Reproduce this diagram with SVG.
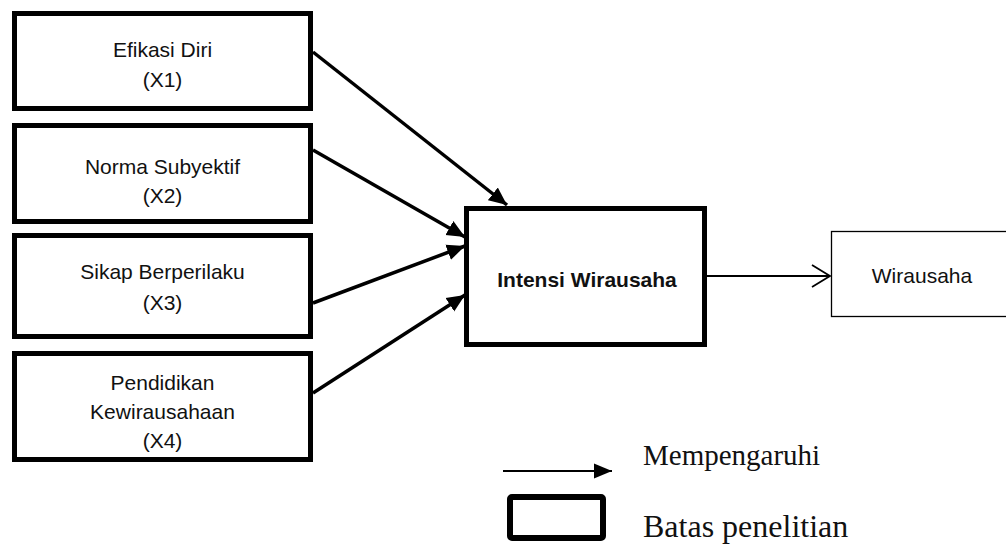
<svg xmlns="http://www.w3.org/2000/svg" width="1006" height="544" viewBox="0 0 1006 544">
<style>
.box{fill:#fff;stroke:#000;stroke-width:5}
.thin{fill:#fff;stroke:#000;stroke-width:1.3}
.t{font-family:"Liberation Sans",Arial,sans-serif;font-size:21px;fill:#111;text-anchor:middle}
.b{font-family:"Liberation Sans",Arial,sans-serif;font-size:21px;font-weight:bold;fill:#111;text-anchor:middle}
.s{font-family:"Liberation Serif","Times New Roman",serif;fill:#111}
.c{stroke:#000;stroke-width:3.5;fill:none}
</style>
<defs>
<marker id="ah" markerUnits="userSpaceOnUse" markerWidth="20" markerHeight="18" viewBox="0 0 20 18" refX="18" refY="9" orient="auto">
<path d="M0,1 L18,9 L0,17 Z" fill="#000"/>
</marker>
<marker id="ahs" markerUnits="userSpaceOnUse" markerWidth="20" markerHeight="18" viewBox="0 0 20 18" refX="18" refY="9" orient="auto">
<path d="M0,1.5 L18,9 L0,16.5 Z" fill="#000"/>
</marker>
</defs>
<g id="x1">
<rect class="box" x="14.5" y="13.5" width="296" height="95"/>
<text class="t" x="162.5" y="57">Efikasi Diri</text>
<text class="t" x="162.5" y="87">(X1)</text>
</g>
<g id="x2">
<rect class="box" x="14.5" y="125.5" width="296" height="96"/>
<text class="t" x="162.5" y="174">Norma Subyektif</text>
<text class="t" x="162.5" y="203">(X2)</text>
</g>
<g id="x3">
<rect class="box" x="14.5" y="235.5" width="296" height="101"/>
<text class="t" x="162.5" y="279">Sikap Berperilaku</text>
<text class="t" x="162.5" y="310">(X3)</text>
</g>
<g id="x4">
<rect class="box" x="14.5" y="353.5" width="296" height="106"/>
<text class="t" x="162.5" y="390">Pendidikan</text>
<text class="t" x="162.5" y="419">Kewirausahaan</text>
<text class="t" x="162.5" y="448">(X4)</text>
</g>
<g id="intensi">
<rect class="box" x="466.5" y="208.5" width="238" height="136"/>
<text class="b" x="587" y="287">Intensi Wirausaha</text>
</g>
<g id="wirausaha">
<rect class="thin" x="831.5" y="231.5" width="190" height="85"/>
<text class="t" x="922" y="283">Wirausaha</text>
</g>
<g id="connectors">
<line class="c" x1="313" y1="52" x2="507" y2="205" marker-end="url(#ah)"/>
<line class="c" x1="313" y1="150" x2="465" y2="237" marker-end="url(#ah)"/>
<line class="c" x1="313" y1="303" x2="465" y2="246" marker-end="url(#ah)"/>
<line class="c" x1="313" y1="393" x2="465" y2="295" marker-end="url(#ah)"/>
<line x1="707" y1="276" x2="830" y2="276" stroke="#000" stroke-width="2"/>
<polyline points="812,265 830,276 812,287" fill="none" stroke="#000" stroke-width="1.8"/>
</g>
<g id="legend">
<line x1="503" y1="471" x2="612" y2="471" stroke="#000" stroke-width="2" marker-end="url(#ahs)"/>
<rect x="510" y="497" width="93" height="41" rx="2" fill="#fff" stroke="#000" stroke-width="6"/>
<text class="s" x="643" y="465" font-size="29">Mempengaruhi</text>
<text class="s" x="643" y="537" font-size="32">Batas penelitian</text>
</g>
</svg>
